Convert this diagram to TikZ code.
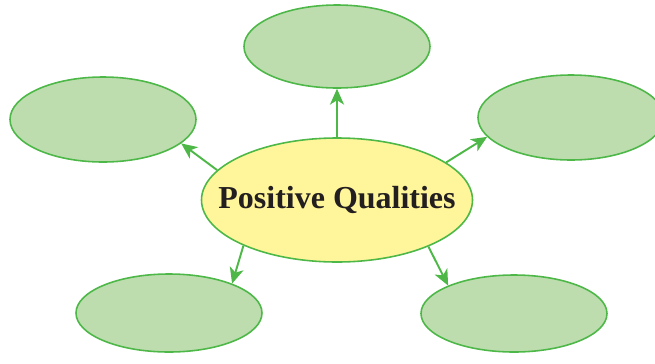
\documentclass[tikz,border=0pt]{standalone}
\usepackage{fontspec}
\setmainfont{Liberation Serif}
\usepackage{tikz}
\usepackage{tkz-euclide}
\usetikzlibrary{shapes.geometric,arrows.meta}
\definecolor{qline}{HTML}{4DB848}
\definecolor{qleaf}{HTML}{BDDDAF}
\definecolor{qcore}{HTML}{FFF59A}
\definecolor{qtext}{HTML}{231F20}

\begin{document}
\begin{tikzpicture}[
    leaf/.style={ellipse, draw=qline, fill=qleaf, line width=0.9pt,
      minimum width=3.72cm, minimum height=1.7cm, inner sep=0pt},
    arr/.style={-{Stealth[length=9pt, width=8pt, inset=2.5pt]},
      draw=qline, line width=1.1pt}]
    \useasboundingbox (0,0) rectangle (13.1,7.26);
    \tkzDefPoint(6.74,3.26){M}
    \tkzDefPoint(6.74,6.33){T}
    \tkzDefPoint(2.06,4.87){L}
    \tkzDefPoint(11.42,4.91){R}
    \tkzDefPoint(3.38,1.00){BL}
    \tkzDefPoint(10.28,0.99){BR}
    \node[ellipse, draw=qline, fill=qcore, line width=0.9pt,
      minimum width=5.42cm, minimum height=2.48cm, inner sep=0pt,
      label={[text=qtext, font=\bfseries\fontsize{18.2}{20}\selectfont]center:Positive Qualities}] (main) at (M) {};
    \node[leaf, minimum height=1.66cm] (top) at (T) {};
    \node[leaf] (left) at (L) {};
    \node[leaf] (right) at (R) {};
    \node[leaf, minimum height=1.56cm] (botleft) at (BL) {};
    \node[leaf, minimum height=1.54cm] (botright) at (BR) {};
    \draw[arr] (main.90) -- (top.-90);
    \draw[arr] (main.166) -- (left.-17);
    \draw[arr] (main.19) -- (right.-167.5);
    \draw[arr] (main.206.6) -- (botleft.25.8);
    \draw[arr] (main.-27.6) -- (botright.157.6);
  \end{tikzpicture}
\end{document}
